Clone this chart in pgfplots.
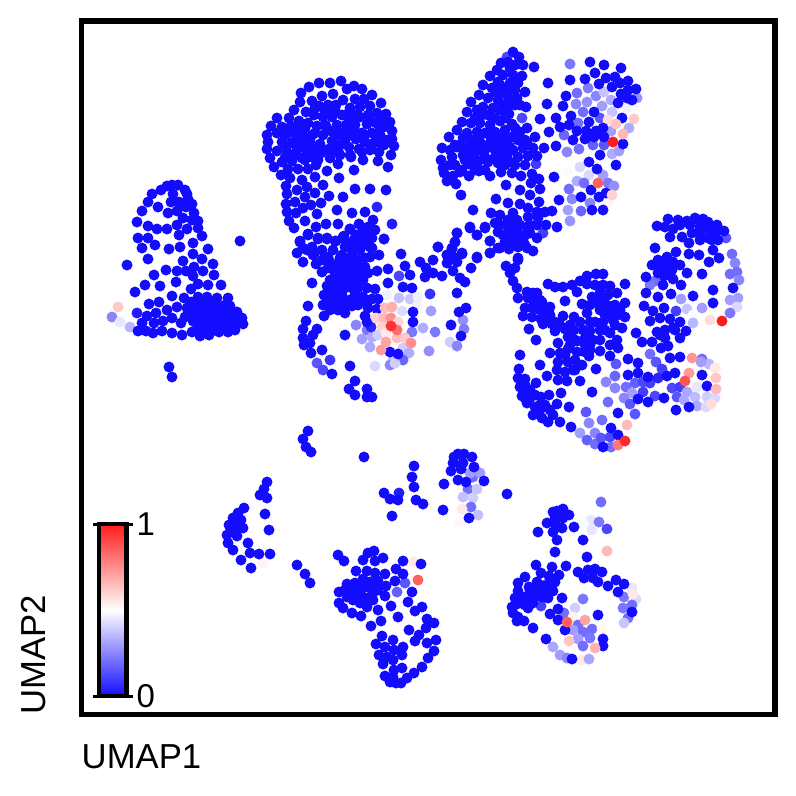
\documentclass[border=0pt]{standalone}
\usepackage{fontspec}
\setmainfont{Liberation Sans}
\usepackage{pgfplots}
\pgfplotsset{compat=1.18}

\newcommand{\labelfont}{\fontsize{34.7}{40}\selectfont}
\newcommand{\tickfont}{\fontsize{33}{38}\selectfont}
\definecolor{dotblue}{RGB}{20,12,255}
\pgfplotsset{
  colormap={bwr}{rgb255=(20,12,255) rgb255=(255,255,255) rgb255=(255,28,28)},
  colored dots/.style={scatter, only marks, mark=*, mark size=5.5pt, scatter src=explicit,
    scatter/use mapped color={draw opacity=0, fill=mapped color}},
}

\begin{document}
\begin{tikzpicture}
\useasboundingbox (0,0) rectangle (796pt,-796pt);
\begin{axis}[
    at={(81.5pt,-714.5pt)}, anchor=south west,
    scale only axis, width=693.5pt, height=693.5pt,
    xmin=81.5, xmax=775, ymin=21, ymax=714.5, y dir=reverse,
    xtick=\empty, ytick=\empty,
    axis line style={line width=5.4pt},
    clip=false,
    label style={font=\labelfont},
    xlabel={UMAP1}, ylabel={UMAP2},
    xlabel style={at={(axis description cs:0,-0.0779)}, anchor=base west, inner sep=0pt},
    ylabel style={at={(axis description cs:-0.052,0)}, anchor=base west, inner sep=0pt},
    point meta min=0, point meta max=1,
]

% cells with intermediate score, under the blue ones
\addplot[colored dots] coordinates {
(118,307) [.62] (112,317) [.25] (120,322) [.45] (130,327) [.35] (137,313) [.03]
(377,207) [.05] (392,224) [.03] (384,239) [.07]
(387,295) [.47] (399,298) [.37] (410,299) [.38] (418,297) [.47] (417,306) [.47] (402,311) [.43]
(431,311) [.3] (356,325) [.25] (367,330) [.22] (362,339) [.3] (372,337) [.33] (378,335) [.4]
(370,347) [.32] (412,332) [.22] (423,328) [.33] (435,332) [.22] (463,320) [.27] (464,329) [.23]
(450,342) [.4] (457,346) [.25] (429,351) [.27] (403,348) [.4] (409,353) [.33] (393,360) [.38]
(403,360) [.18] (375,366) [.42] (390,365) [.25] (395,363) [.4] (427,338) [.49]
(399,276) [.12] (430,294) [.07] (371,327) [.05] (330,360) [.08] (317,363) [.15] (323,370) [.12]
(507,57) [.12] (522,118) [.12] (536,164) [.1] (543,233) [.1]
(570,64) [.22] (577,93) [.2] (588,88) [.23] (596,96) [.25] (576,104) [.25] (587,102) [.27]
(602,106) [.3] (583,112) [.2] (611,100) [.33] (612,112) [.38] (604,92) [.38] (637,98) [.27]
(578,123) [.2] (600,118) [.15] (611,131) [.3] (629,128) [.33] (564,135) [.18] (579,149) [.2]
(593,145) [.17] (604,145) [.15] (567,152) [.25] (612,154) [.33] (619,151) [.3] (580,167) [.42]
(603,175) [.3] (589,175) [.42] (577,181) [.33] (584,183) [.2] (569,189) [.2] (608,183) [.22]
(614,186) [.27] (572,199) [.25] (590,203) [.25] (568,210) [.3] (581,211) [.18] (570,221) [.28]
(568,172) [.49] (627,108) [.47] (636,108) [.49] (608,120) [.58] (608,203) [.52]
(726,238) [.15] (732,254) [.2] (735,263) [.25] (730,274) [.2] (737,272) [.2] (739,280) [.25]
(655,281) [.2] (650,285) [.22] (730,300) [.3] (738,298) [.3] (737,307) [.42] (730,313) [.22]
(681,299) [.3] (687,309) [.38] (702,308) [.3] (676,311) [.1] (693,315) [.49] (693,323) [.35]
(710,320) [.58]
(616,364) [.15] (615,376) [.18] (606,382) [.25] (615,388) [.25] (626,387) [.2] (635,383) [.17]
(650,354) [.2] (656,362) [.15] (662,369) [.1] (643,382) [.12] (650,383) [.1] (658,378) [.05]
(643,392) [.1] (632,393) [.3] (624,398) [.25] (630,404) [.15] (655,396) [.12] (672,388) [.12]
(680,387) [.1] (677,397) [.15] (687,392) [.32] (695,397) [.36] (684,400) [.32] (697,406) [.32]
(707,397) [.4] (706,407) [.42] (715,398) [.42] (697,387) [.45] (702,359) [.2] (709,364) [.35]
(701,362) [.3] (608,402) [.2] (635,414) [.15] (586,412) [.15] (589,423) [.25] (602,420) [.2]
(580,433) [.3] (587,440) [.17] (595,433) [.25] (595,444) [.2] (601,438) [.15] (610,437) [.12]
(611,447) [.2] (715,368) [.55]
(399,493) [.03] (263,563) [.53] (414,562) [.55] (405,583) [.15] (397,592) [.17]
(473,477) [.2] (480,473) [.3] (468,489) [.2] (477,489) [.38] (463,497) [.37] (473,498) [.4]
(471,507) [.2] (478,515) [.37] (462,509) [.55] (460,522) [.52] (470,473) [.3]
(547,584) [.2] (541,606) [.1]
(601,502) [.2] (591,520) [.45] (599,522) [.22] (607,529) [.12] (592,530) [.45] (583,523) [.49]
(609,539) [.5] (632,588) [.45] (624,597) [.22] (636,599) [.42] (633,594) [.55] (632,605) [.2]
(623,608) [.22] (628,618) [.2] (624,623) [.38] (583,599) [.22] (575,608) [.4] (564,613) [.2]
(573,617) [.53] (578,625) [.2] (573,630) [.3] (583,632) [.2] (592,629) [.2] (578,639) [.3]
(590,638) [.22] (602,629) [.52] (583,646) [.2] (553,647) [.32] (560,655) [.3] (567,658) [.25]
(581,660) [.55] (589,659) [.32]
};

% blue cells
\addplot[only marks, mark=*, mark size=5.5pt, mark options={draw opacity=0, fill=dotblue}] coordinates {
% bell
(172,185) (178,185) (167,186) (161,190) (152,194) (148,202) (142,211) (137,222) (138,238) (142,248)
(148,259) (127,265) (173,194) (185,190) (187,194) (171,202) (179,202) (188,199) (192,204) (158,207)
(168,213) (177,211) (186,207) (194,213) (183,218) (192,220) (198,221) (148,226) (157,229) (167,229)
(177,225) (187,229) (198,228) (148,238) (179,235) (202,236) (155,245) (169,249) (180,247) (193,243)
(208,249) (193,254) (202,259) (183,261) (213,264) (166,270) (177,271) (186,271) (194,267) (203,271)
(154,275) (193,276) (214,275) (176,282) (145,285) (160,286) (198,284) (208,285) (221,285) (191,289)
(135,292) (172,296) (184,298) (198,297) (207,297) (217,298) (228,298) (191,302) (200,305) (208,305)
(218,307) (230,306) (187,308) (194,309) (203,312) (212,312) (222,312) (237,312) (190,315) (198,317)
(207,318) (216,317) (225,317) (233,317) (242,318) (185,317) (193,321) (203,326) (213,323) (223,323)
(232,324) (243,324) (219,332) (228,332) (235,330) (210,320) (149,304) (159,302) (167,310) (177,307)
(147,316) (156,313) (142,323) (154,323) (163,321) (172,318) (181,323) (138,331) (146,331) (153,333)
(162,331) (172,333) (182,335) (192,332) (200,336) (209,335) (240,241) (169,367) (172,377)
(195,305) (205,300) (215,303) (225,305) (195,322) (205,322) (215,308) (220,327) (228,310) (238,320)
(208,330) (198,330) (215,330) (225,327) (235,325)
% upper middle blob
(341,81) (330,83) (319,83) (309,87) (301,93) (300,102) (294,110) (354,86) (362,89) (347,89)
(372,95) (381,103) (386,114) (390,122) (392,131) (392,139) (394,146) (391,155) (388,167) (378,161)
(363,160) (351,157) (354,170) (338,164) (327,171) (339,178) (316,165) (315,177) (323,185) (355,189)
(370,189) (386,190) (343,197) (329,196) (315,193) (365,212) (352,213) (337,210) (373,220) (321,203)
(317,214) (305,221) (326,224) (338,224) (316,227) (294,228) (289,221) (287,212) (286,204) (287,194)
(286,186) (295,202) (296,213) (303,208) (311,205) (305,197) (297,190) (307,187) (302,180) (290,178)
(281,175) (274,167) (270,158) (267,149) (267,135) (268,142) (271,126) (277,118)
(322,96) (333,94) (312,101) (319,106) (328,105) (336,105) (343,100) (355,99) (364,99) (350,108)
(360,107) (370,106) (306,112) (289,118) (299,121) (314,115) (323,117) (332,117) (342,115) (351,118)
(360,117) (368,115) (377,113) (282,127) (291,126) (300,130) (308,123) (317,126) (326,126) (337,125)
(346,125) (355,125) (367,124) (376,123) (384,127) (277,133) (286,135) (294,133) (303,136) (312,135)
(323,135) (333,132) (342,133) (352,130) (362,133) (372,133) (381,137) (282,142) (292,143) (302,145)
(310,141) (320,144) (332,141) (340,145) (356,139) (365,142) (372,144) (380,143) (277,151) (287,152)
(297,150) (307,151) (316,149) (329,149) (349,147) (359,149) (370,150) (379,152) (282,162) (292,161)
(302,158) (312,157) (321,153) (330,158) (339,153) (288,169) (298,169) (308,169)
(285,130) (295,128) (305,128) (296,140) (306,141) (315,133) (328,130) (337,135) (347,135) (357,133)
(325,125) (350,135) (285,145) (297,135) (312,148) (324,150) (335,150) (345,140) (365,135) (375,135)
(340,155) (350,155) (305,160) (295,155) (285,158) (318,160) (330,150) (362,152) (355,115) (345,115)
(335,110) (325,112) (315,108) (370,120) (382,120) (380,130) (384,145) (388,140)
(308,234) (300,242) (318,238) (327,238) (336,241) (344,236) (350,229) (359,224) (368,227) (374,230)
(357,235) (365,237) (372,238) (362,245) (370,247) (353,245) (345,247)
% star
(308,235) (300,241) (318,239) (327,239) (335,241) (343,237) (350,229) (357,235) (363,231) (368,230)
(375,230) (357,244) (365,240) (372,248) (384,239) (379,255) (297,253) (303,248) (303,262) (312,247)
(313,255) (322,250) (328,257) (316,264) (322,272) (333,250) (342,255) (350,245) (360,250) (370,257)
(348,262) (358,260) (365,267) (338,266) (328,268) (377,271) (388,269) (368,273) (360,273) (352,273)
(343,275) (335,273) (330,280) (338,283) (347,282) (355,280) (363,280) (312,283) (388,283) (327,286)
(335,290) (343,290) (358,288) (367,288) (375,289) (324,295) (332,298) (338,297) (355,295) (363,297)
(372,299) (378,299) (308,306) (323,305) (330,310) (337,304) (352,306) (360,302) (368,308) (377,309)
(324,316) (345,313) (365,316) (306,321) (317,329) (303,329) (313,335) (345,335) (367,322) (303,338)
(310,343) (304,345) (311,353) (322,350) (332,374) (350,366) (355,381) (349,389) (367,389) (355,395)
(367,397) (372,397) (401,254) (405,266) (410,275) (403,287) (412,288) (420,262) (426,268) (433,260)
(425,277) (433,273) (442,276) (438,247) (457,233) (455,242) (452,248) (447,255) (455,258) (462,253)
(447,263) (457,262) (453,271) (460,278) (465,282) (471,268) (477,258) (490,241) (490,253) (477,235)
(470,228) (485,228) (498,248) (457,293) (413,312) (413,322) (459,312) (466,308) (451,325) (461,336)
(390,352) (398,354)
(345,262) (352,255) (340,258) (335,265) (345,270) (352,266) (358,268) (340,275) (333,282) (345,287)
(352,288) (358,278) (365,258) (330,262) (322,260) (315,252) (307,250) (350,280) (343,298) (350,300)
(345,305) (338,310) (333,303) (327,300) (340,290) (330,292) (358,305) (365,300) (352,250) (345,240)
(355,238)
% upper right blob
(513,52) (519,57) (501,63) (523,65) (510,68) (497,70) (534,67) (490,76) (503,75) (513,75)
(522,76) (548,83) (483,85) (498,82) (510,83) (518,83) (492,88) (502,92) (510,90) (525,92)
(479,95) (488,98) (498,100) (508,97) (517,98) (471,102) (483,107) (493,108) (505,105) (515,105)
(526,107) (547,104) (467,112) (477,110) (488,115) (509,114) (540,119) (462,122) (471,123) (480,123)
(500,121) (490,125) (512,124) (457,130) (467,133) (477,132) (485,133) (495,132) (503,137) (512,137)
(520,132) (527,128) (549,132) (449,137) (463,138) (472,140) (480,142) (490,143) (498,145) (510,147)
(518,140) (527,143) (535,137) (442,148) (457,147) (467,148) (477,148) (487,148) (495,150) (503,150)
(513,150) (523,148) (533,148) (544,148) (556,146) (452,157) (463,155) (473,155) (485,157) (495,157)
(507,155) (518,157) (528,156) (537,156) (441,160) (455,165) (469,164) (478,162) (488,162) (498,163)
(510,162) (525,165) (443,168) (462,170) (479,171) (444,173) (453,176) (447,181) (456,184) (469,176)
(490,176) (501,172) (512,173) (521,176) (532,174) (554,177) (539,179) (531,183) (506,185) (520,190)
(540,189) (530,195) (461,195) (496,199) (508,203) (520,204) (528,208) (539,202) (559,200) (473,210)
(491,213) (500,215) (513,213) (537,212) (545,212) (552,211) (495,223) (508,220) (517,220) (528,217)
(538,218) (470,227) (485,227) (498,232) (508,227) (527,227) (537,225) (546,225) (557,227) (457,233)
(477,235) (510,235) (518,233) (530,233) (490,241) (455,242) (500,248) (512,242) (523,240) (537,238)
(438,247) (452,249) (509,249) (518,247) (527,248) (533,251) (490,253) (447,255) (462,254) (477,257)
(455,258) (518,258)
(470,150) (480,150) (490,135) (480,135) (470,145) (460,145) (465,160) (475,158) (500,158) (505,165)
(515,165) (505,140) (495,140) (500,110) (510,105) (495,92) (505,88) (515,90) (520,105) (482,115)
(495,118) (505,118) (475,118) (505,130) (515,128) (525,140) (500,85) (508,62) (515,65) (475,170)
(485,170) (455,145) (450,150) (460,172) (450,165)
(510,225) (520,225) (512,230) (500,225) (503,235) (525,235) (530,225) (505,242) (515,240) (525,245)
(590,62) (604,65) (621,68) (595,73) (570,80) (585,79) (606,78) (615,77) (599,84) (612,87)
(620,83) (628,81) (566,96) (628,90) (636,89) (621,94) (627,98) (618,103) (563,106) (632,100)
(556,118) (571,116) (594,112) (622,118) (560,127) (569,125) (577,131) (589,122) (586,131) (596,131)
(603,128) (573,140) (585,139) (594,137) (604,137) (623,144) (600,155) (589,162) (616,165) (597,169)
(591,190) (599,197) (606,193) (581,197) (592,210) (603,210)
% right loop
(668,219) (678,220) (687,221) (695,218) (703,219) (708,222) (717,225) (724,231) (657,226) (665,227)
(673,229) (692,233) (700,227) (708,229) (715,233) (670,237) (682,237) (689,243) (700,240) (708,238)
(718,240) (655,248) (676,252) (713,250) (689,254) (699,255) (719,258) (667,257) (658,260) (673,262)
(652,265) (680,265) (709,262) (662,268) (668,270) (658,273) (687,273) (702,274) (673,279) (646,277)
(663,285) (681,285) (733,288) (713,290) (646,293) (658,297) (671,294) (693,296) (713,303) (644,306)
(664,308) (653,311) (660,318) (670,319) (680,322) (650,321) (657,332) (665,330) (673,328) (686,331)
(680,338) (636,333) (642,342) (652,342) (661,348) (668,346) (670,358) (680,357)
(680,225) (690,225) (700,235) (712,240) (700,222) (672,270) (665,262) (660,268) (664,276) (675,330)
(665,338) (660,335)
% central right mass
(518,260) (506,266) (515,268) (510,273) (513,281) (517,288) (518,298) (527,292) (537,293) (533,300)
(542,302) (548,284) (555,287) (563,287) (572,285) (580,281) (587,276) (596,274) (603,274) (525,308)
(535,307) (545,308) (550,307) (523,316) (532,317) (541,319) (550,315) (552,324) (543,324) (529,329)
(536,340) (555,331) (563,316) (574,317) (565,301) (582,304) (577,292) (587,284) (595,285) (603,285)
(610,286) (592,297) (600,293) (608,295) (617,293) (625,284) (597,303) (607,305) (615,305) (625,303)
(587,313) (600,310) (612,317) (618,315) (625,317) (595,322) (603,322) (613,320) (622,328) (565,329)
(574,330) (583,330) (590,331) (600,330) (610,333) (568,337) (577,341) (585,338) (593,340) (558,343)
(568,349) (577,352) (600,351) (617,340) (618,348) (610,356) (589,356) (520,355) (550,353) (560,353)
(540,365) (558,362) (568,362) (582,365) (557,370) (565,372) (573,370) (596,369) (519,369) (547,376)
(558,380) (567,381) (580,381) (628,359) (638,363) (675,373) (628,375) (638,373) (648,377) (667,376)
(702,375) (707,386) (592,392) (648,402) (664,398) (638,399) (676,410) (689,407) (618,413)
(518,378) (525,379) (536,383) (520,387) (527,390) (522,396) (530,398) (541,397) (549,395) (561,393)
(557,404) (569,407) (527,403) (535,407) (545,405) (533,415) (542,418) (553,415) (548,422) (560,422)
(571,427) (611,428) (603,447) (618,435)
(533,293) (528,298) (540,300) (533,308) (540,310) (545,315) (550,322) (555,322) (560,325) (570,325)
(580,322) (590,322) (575,340) (585,345) (590,350) (570,345) (595,300) (600,300) (605,295) (590,305)
(610,310) (620,310) (605,315) (615,325) (605,330) (575,360) (565,355) (575,370) (590,345) (600,340)
(610,345) (585,352) (525,385) (535,395) (530,390) (540,405) (525,398) (540,410) (550,410)
% lower left
(308,431) (303,439) (306,447) (311,452) (364,457) (414,466) (412,477) (414,487) (384,493) (390,499)
(398,500) (416,500) (423,504) (392,516) (267,482) (264,489) (260,495) (267,498) (265,514) (269,530)
(244,508) (238,513) (233,518) (241,520) (229,525) (243,528) (235,527) (230,532) (227,535) (237,536)
(228,543) (233,550) (248,543) (250,553) (259,554) (270,554) (241,560) (251,568) (297,565) (305,574)
(310,583)
(338,555) (344,561) (368,553) (374,551) (363,560) (375,561) (383,558) (403,561) (421,564) (356,571)
(367,571) (396,569) (403,574) (375,573) (385,574) (363,579) (395,581) (347,584) (355,583) (370,582)
(378,581) (386,586) (339,592) (354,592) (363,588) (372,590) (378,590) (412,592) (347,597) (353,600)
(363,597) (385,596) (373,600) (339,603) (360,603) (367,607) (391,606) (408,602) (343,608) (352,613)
(378,610) (422,607) (415,611) (361,616) (398,617) (381,621) (371,626) (427,619) (434,623) (426,628)
(409,630) (419,635) (382,636) (393,640) (415,641) (427,643) (436,640) (376,644) (385,647) (403,647)
(394,650) (434,651) (379,655) (387,657) (402,655) (393,660) (428,658) (383,664) (422,667) (402,668)
(394,670) (414,673) (385,676) (407,678) (393,677) (390,682) (396,683) (401,683)
(358,590) (365,585) (372,595) (378,585) (360,595) (368,600) (352,586) (345,590)
% lower middle
(458,454) (464,454) (472,457) (454,457) (453,463) (463,463) (474,467) (451,471) (461,469) (444,484)
(458,480) (466,482) (484,481) (507,494) (443,510) (469,518)
% lower right
(563,509) (557,511) (553,512) (569,515) (563,518) (555,518) (547,523) (556,525) (562,528) (574,527)
(538,532) (553,532) (557,540) (583,540) (555,552) (587,557) (536,565) (552,567) (566,566) (578,572)
(588,570) (595,569) (602,572) (541,573) (525,577) (549,576) (559,575) (584,578) (593,578) (598,582)
(616,580) (608,586) (624,584) (518,583) (537,582) (529,587) (555,582) (545,586) (537,590) (518,591)
(545,592) (553,591) (618,592) (525,597) (515,598) (534,597) (542,597) (548,598) (562,598) (517,604)
(533,603) (512,607) (528,608) (513,613) (550,614) (558,609) (598,615) (518,617) (558,620) (517,621)
(524,621) (632,612) (533,628) (565,630) (546,639) (603,639) (603,646) (572,659)
(530,590) (540,595) (548,585) (525,605) (520,600) (530,597) (540,585)
};

% red and pink cells on top
\addplot[colored dots] coordinates {
(385,308) [.65] (392,307) [.68] (376,318) [.6] (384,318) [.66] (391,318) [.75] (382,327) [.6]
(398,322) [.6] (386,333) [.55] (386,342) [.7] (397,338) [.65] (405,338) [.62] (411,343) [.75]
(381,350) [.72] (397,330) [.82] (391,326) [.95]
(616,124) [.63] (634,119) [.62] (623,134) [.66] (613,142) [1] (598,183) [.85] (612,195) [.6]
(722,321) [1]
(692,358) [.73] (689,373) [.72] (685,381) [.88] (716,378) [.62] (716,389) [.65] (711,404) [.58]
(627,425) [.65] (618,445) [.8] (625,441) [.97]
(418,580) [.85] (607,551) [.65] (567,622) [.85] (585,620) [.7] (569,641) [.63] (595,648) [.67]
};
\end{axis}

% colour scale, drawn as its own small axis
\begin{axis}[
    at={(99pt,-696pt)}, anchor=south west,
    scale only axis, width=27.5pt, height=172pt,
    xmin=0, xmax=1, ymin=0, ymax=1,
    xtick=\empty, ytick={0,1}, yticklabel pos=right,
    /pgf/number format/assume math mode=true,
    yticklabel style={font=\tickfont, inner sep=0pt, xshift=4pt},
    axis line style={line width=4pt},
    major tick length=6pt,
    tick style={line width=3pt, black},
    tick align=outside,
    axis on top,
    point meta min=0, point meta max=1,
]
\addplot[surf, shader=interp, mesh/cols=2, point meta=y] coordinates {
(0,0) (1,0)

(0,0.5) (1,0.5)

(0,1) (1,1)
};
\end{axis}
\end{tikzpicture}
\end{document}
